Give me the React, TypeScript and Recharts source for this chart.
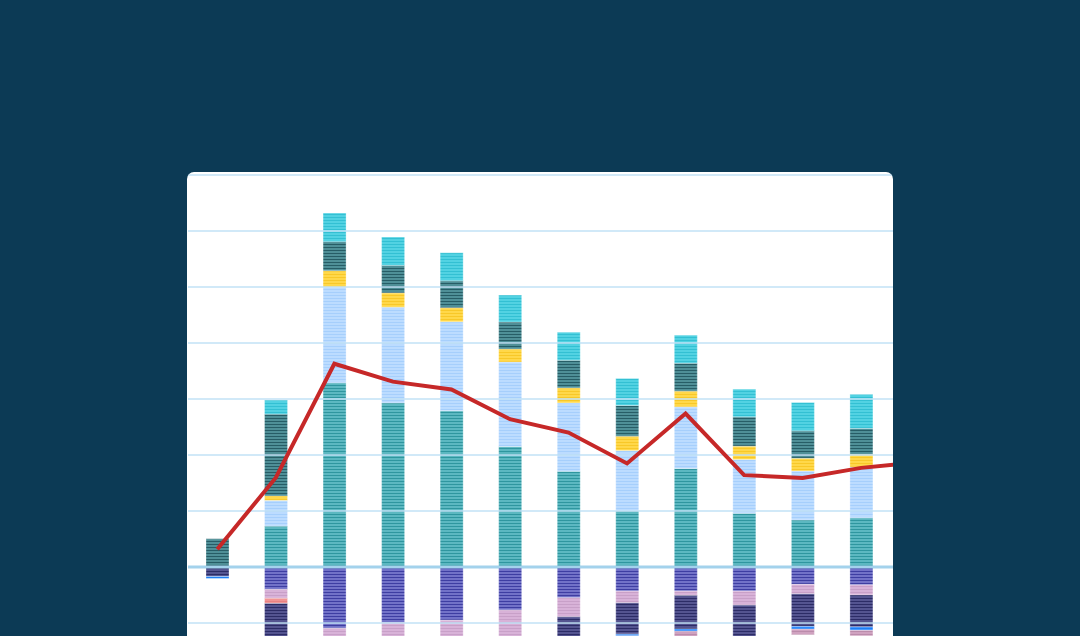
import React from "react";
import { ComposedChart, Bar, Line, XAxis, YAxis, ReferenceLine } from "recharts";

// ---- data ----
const categories = ["P1", "P2", "P3", "P4", "P5", "P6", "P7", "P8", "P9", "P10", "P11", "P12", "P13"];

// positive stack (bottom -> top)
const tealValues = [0, 7.3, 32.9, 29.3, 27.9, 21.5, 17.1, 10.0, 17.6, 9.6, 8.4, 8.8, null];
const lightBlueValues = [0, 4.6, 17.1, 17.1, 15.9, 15.1, 12.2, 10.8, 11.0, 9.6, 8.75, 9.05, null];
const yellowValues = [0, 0.8, 2.9, 2.55, 2.5, 2.32, 2.68, 2.55, 2.8, 2.38, 2.27, 2.27, null];
const darkTealValues = [5.05, 14.6, 5.2, 4.9, 4.82, 4.82, 4.95, 5.5, 5.0, 5.23, 4.9, 4.64, null];
const cyanValues = [0, 2.5, 5.1, 5.06, 5.0, 4.82, 5.0, 4.82, 5.0, 4.95, 5.06, 6.07, null];

// negative stack (zero -> down)
const indigoValues = [0, -4.0, -10.95, -9.95, -9.5, -7.7, -5.5, -4.3, -4.3, -4.3, -3.1, -3.2, null];
const lavenderValues = [0, -1.6, -3.0, -3.0, -3.0, -5.0, -3.4, -2.1, -0.77, -2.5, -1.7, -1.8, null];
const salmonValues = [0, -0.9, 0, 0, 0, 0, 0, 0, 0, 0, 0, 0, null];
const navyValues = [-1.7, -6.0, 0, 0, 0, 0, -6.0, -5.6, -6.0, -6.0, -5.8, -5.7, null];
const blueValues = [-0.35, 0, 0, 0, 0, 0, 0, -0.3, -0.4, 0, -0.5, -0.6, null];
const pinkValues = [0, 0, 0, 0, 0, 0, 0, -1.0, -1.0, 0, -1.0, -1.0, null];

// line
const lineValues = [3.16, 15.95, 36.3, 33.1, 31.7, 26.4, 24.0, 18.5, 27.4, 16.4, 15.9, 17.7, 18.7];

const gridTicks = [-20, -10, 10, 20, 30, 40, 50, 60, 70];

const data = categories.map((cat, i) => ({
  cat,
  teal: tealValues[i],
  lightBlue: lightBlueValues[i],
  yellow: yellowValues[i],
  darkTeal: darkTealValues[i],
  cyan: cyanValues[i],
  indigo: indigoValues[i],
  lavender: lavenderValues[i],
  salmon: salmonValues[i],
  navy: navyValues[i],
  blue: blueValues[i],
  pink: pinkValues[i],
  line: lineValues[i],
}));

// ---- styles ----
const seriesStyles: { key: string; base: string; stripe: string }[] = [
  { key: "teal", base: "#5cb8c1", stripe: "#2f969f" },
  { key: "lightBlue", base: "#bcdcff", stripe: "#a6cffc" },
  { key: "yellow", base: "#ffd84a", stripe: "#f8c828" },
  { key: "darkTeal", base: "#4f8f97", stripe: "#275d66" },
  { key: "cyan", base: "#52d2e2", stripe: "#33c0d3" },
  { key: "indigo", base: "#7272c8", stripe: "#3e3ea2" },
  { key: "lavender", base: "#d8b2d8", stripe: "#c8a0c8" },
  { key: "salmon", base: "#f29494", stripe: "#e88282" },
  { key: "navy", base: "#545490", stripe: "#2c2c66" },
  { key: "blue", base: "#2f8cff", stripe: "#1f7ef2" },
  { key: "pink", base: "#d0a2c0", stripe: "#bb8cab" },
];

export default function App() {
  return (
    <div
      style={{
        position: "fixed",
        left: 0,
        top: 0,
        width: 1080,
        height: 636,
        overflow: "hidden",
        background: "#0c3a55",
      }}
    >
      <div
        style={{
          position: "absolute",
          left: 187,
          top: 172,
          width: 706,
          height: 540,
          background: "#ffffff",
          borderRadius: 7,
          overflow: "hidden",
        }}
      >
        <div style={{ position: "absolute", left: 1, top: 0 }}>
          <ComposedChart
            width={761}
            height={507}
            data={data}
            stackOffset="sign"
            barSize={23}
            margin={{ top: 3, right: 0, bottom: 0, left: 0 }}
          >
            <defs>
              {seriesStyles.map((s) => (
                <pattern
                  key={s.key}
                  id={`pat-${s.key}`}
                  width={4}
                  height={3}
                  patternUnits="userSpaceOnUse"
                >
                  <rect x={0} y={0} width={4} height={3} fill={s.base} />
                  <rect x={0} y={0} width={4} height={1} fill={s.stripe} />
                </pattern>
              ))}
            </defs>
            <XAxis dataKey="cat" hide />
            <YAxis hide domain={[-20, 70]} allowDataOverflow />
            {seriesStyles.map((s) => (
              <Bar
                key={s.key}
                dataKey={s.key}
                stackId="a"
                fill={`url(#pat-${s.key})`}
                stroke="#ffffff"
                strokeOpacity={0.3}
                strokeWidth={1}
                isAnimationActive={false}
              />
            ))}
            {gridTicks.map((t) => (
              <ReferenceLine
                key={t}
                y={t}
                stroke="#c2e1f5"
                strokeOpacity={0.75}
                strokeWidth={2}
              />
            ))}
            <ReferenceLine y={0} stroke="#a3d2ec" strokeWidth={3} />
            <Line
              dataKey="line"
              type="linear"
              stroke="#c62828"
              strokeWidth={4}
              dot={false}
              activeDot={false}
              isAnimationActive={false}
            />
          </ComposedChart>
        </div>
      </div>
    </div>
  );
}
